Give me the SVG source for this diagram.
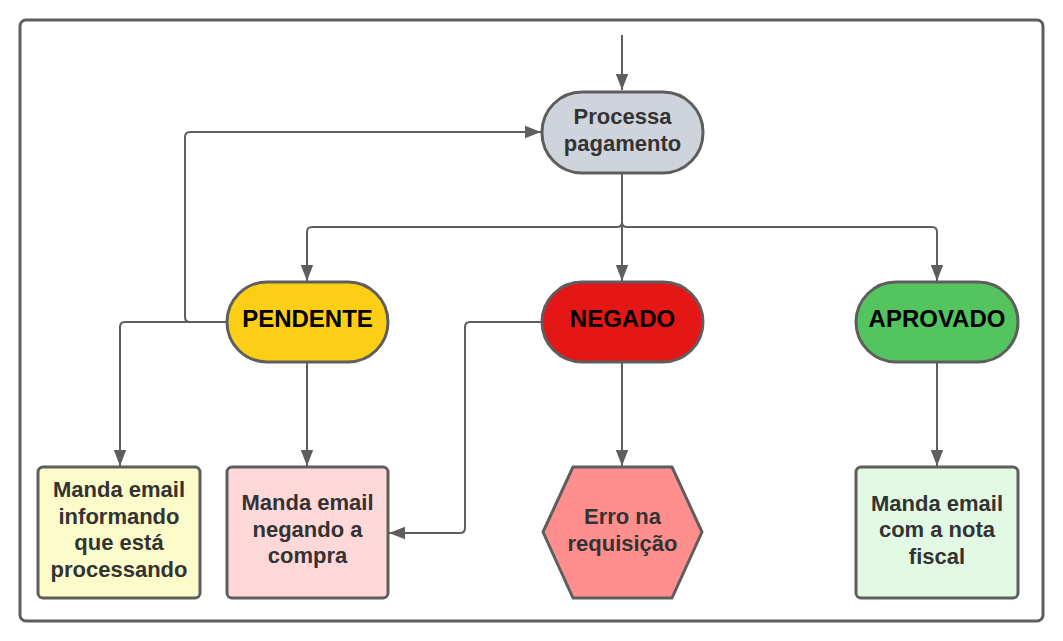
<svg xmlns="http://www.w3.org/2000/svg" width="1063" height="641" viewBox="0 0 1063 641">
<style>
.frame{fill:#ffffff;stroke:#5e5e5e;stroke-width:3}
.node{stroke:#5e5e5e;stroke-width:3;stroke-linejoin:round}
.conn{fill:none;stroke:#5e5e5e;stroke-width:2}
.t{font-family:"Liberation Sans",Arial,sans-serif;font-weight:bold;font-size:22px;fill:#333333;text-anchor:middle}
.s{font-family:"Liberation Sans",Arial,sans-serif;font-weight:bold;font-size:24px;fill:#000000;text-anchor:middle}
</style>
<defs>
<marker id="arr" markerUnits="userSpaceOnUse" markerWidth="18" markerHeight="14" viewBox="0 0 18 14" refX="17" refY="7" orient="auto">
<path d="M1,0.8 L17,7 L1,13.2 Z" fill="#5e5e5e"/>
</marker>
</defs>
<rect class="frame" x="20" y="20" width="1023" height="601" rx="6"/>
<g id="connectors">
<path class="conn" d="M622,35 V90" marker-end="url(#arr)"/>
<path class="conn" d="M622,174 V222 Q622,227 617,227 H312 Q307,227 307,232 V281" marker-end="url(#arr)"/>
<path class="conn" d="M622,174 V281" marker-end="url(#arr)"/>
<path class="conn" d="M622,222 Q622,227 627,227 H932 Q937,227 937,232 V281" marker-end="url(#arr)"/>
<path class="conn" d="M227,322 H190 Q185,322 185,317 V137 Q185,132 190,132 H541" marker-end="url(#arr)"/>
<path class="conn" d="M227,322 H125 Q120,322 120,327 V466" marker-end="url(#arr)"/>
<path class="conn" d="M307,363 V466" marker-end="url(#arr)"/>
<path class="conn" d="M542,322 H470 Q465,322 465,327 V528 Q465,533 460,533 H389" marker-end="url(#arr)"/>
<path class="conn" d="M622,363 V466" marker-end="url(#arr)"/>
<path class="conn" d="M937,363 V466" marker-end="url(#arr)"/>
</g>
<g id="processa">
<rect class="node" x="542" y="92" width="161" height="81" rx="40" fill="#ced3dc"/>
<text class="t" x="622.5" y="124">Processa</text>
<text class="t" x="622.5" y="150.5">pagamento</text>
</g>
<g id="pendente">
<rect class="node" x="227" y="282" width="161" height="80" rx="40" fill="#fccf16"/>
<text class="s" x="307.5" y="327">PENDENTE</text>
</g>
<g id="negado">
<rect class="node" x="542" y="282" width="161" height="80" rx="40" fill="#e51616"/>
<text class="s" x="622.5" y="327">NEGADO</text>
</g>
<g id="aprovado">
<rect class="node" x="856" y="282" width="162" height="80" rx="40" fill="#54c45e"/>
<text class="s" x="937" y="327">APROVADO</text>
</g>
<g id="email-processando">
<rect class="node" x="38" y="467" width="162" height="131" rx="5" fill="#fcfcca"/>
<text class="t" x="119" y="497">Manda email</text>
<text class="t" x="119" y="523.5">informando</text>
<text class="t" x="119" y="550">que está</text>
<text class="t" x="119" y="576.5">processando</text>
</g>
<g id="email-negando">
<rect class="node" x="227" y="467" width="161" height="131" rx="5" fill="#ffd8d9"/>
<text class="t" x="307.5" y="510">Manda email</text>
<text class="t" x="307.5" y="536.5">negando a</text>
<text class="t" x="307.5" y="563">compra</text>
</g>
<g id="erro">
<polygon class="node" points="573,467 672,467 702,532 672,598 573,598 543,532" fill="#ff8f8f"/>
<text class="t" x="622.5" y="524">Erro na</text>
<text class="t" x="622.5" y="550.5">requisição</text>
</g>
<g id="email-nota">
<rect class="node" x="856" y="467" width="162" height="131" rx="5" fill="#e2f9e3"/>
<text class="t" x="937" y="510.5">Manda email</text>
<text class="t" x="937" y="537">com a nota</text>
<text class="t" x="937" y="563.5">fiscal</text>
</g>
</svg>
